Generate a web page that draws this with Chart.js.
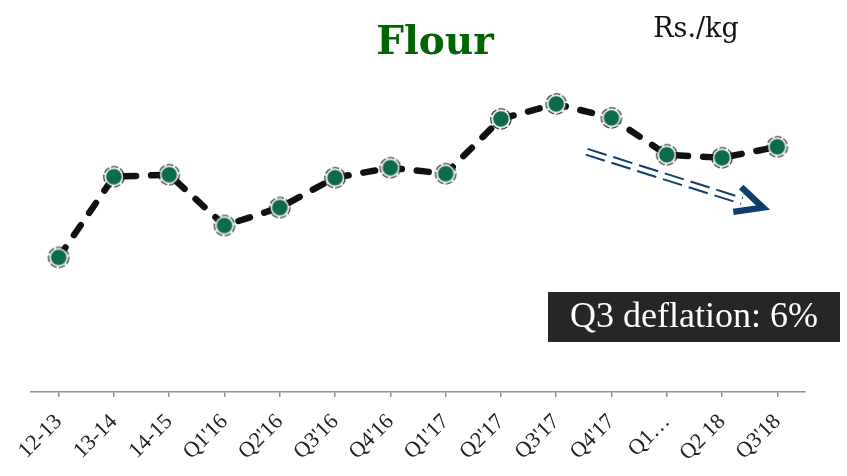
<!DOCTYPE html>
<html>
<head>
<meta charset="utf-8">
<script src="https://cdn.jsdelivr.net/npm/chart.js@4"></script>
<style>
  html, body { margin: 0; padding: 0; background: #fff; }
  #wrap { width: 847px; height: 476px; }
</style>
</head>
<body>
<div id="wrap"><canvas id="flour"></canvas></div>
<script>
// categories and values (Rs./kg)
const periodos = ["12-13", "13-14", "14-15", "Q1'16", "Q2'16", "Q3'16", "Q4'16",
  "Q1'17", "Q2'17", "Q3'17", "Q4'17", "Q1…", "Q2 18", "Q3'18"];
const precios = [33.5, 41.6, 41.8, 36.7, 38.5, 41.5, 42.5, 41.9, 47.4, 48.9, 47.5, 43.8, 43.5, 44.6];
// trend arrow: [category index, value] at start and tip
const flechaDesde = [9.55, 44.1];
const flechaHasta = [12.74, 38.5];

const ctx = document.getElementById("flour");

// marker: green dot with light ring and dashed dark outline
function crearMarcador() {
  const c = document.createElement("canvas");
  c.width = 24; c.height = 24;
  const g = c.getContext("2d");
  g.beginPath();
  g.arc(12, 12, 8.5, 0, Math.PI * 2);
  g.fillStyle = "#0d6a4c";
  g.fill();
  g.lineWidth = 1.5;
  g.strokeStyle = "#e8f0ec";
  g.stroke();
  g.beginPath();
  g.arc(12, 12, 10.2, 0, Math.PI * 2);
  g.setLineDash([7, 2]);
  g.lineWidth = 1.1;
  g.strokeStyle = "#222";
  g.stroke();
  return c;
}

const extras = {
  id: "extras",
  afterDraw(chart) {
    const c = chart.ctx;
    const x = chart.scales.x, y = chart.scales.y;
    c.save();
    // title
    c.fillStyle = "#006400";
    c.font = "bold 39px 'DejaVu Serif'";
    c.textAlign = "center";
    c.textBaseline = "middle";
    c.fillText("Flour", 435, 44);
    // units
    c.fillStyle = "#111";
    c.font = "27px 'DejaVu Serif'";
    c.fillText("Rs./kg", 696, 30);

    // trend arrow (double dashed line)
    const x0 = x.getPixelForValue(flechaDesde[0]), y0 = y.getPixelForValue(flechaDesde[1]);
    const x1 = x.getPixelForValue(flechaHasta[0]), y1 = y.getPixelForValue(flechaHasta[1]);
    const ang = Math.atan2(y1 - y0, x1 - x0);
    const nx = -Math.sin(ang) * 3, ny = Math.cos(ang) * 3;
    c.strokeStyle = "#0f3e6e";
    c.lineWidth = 2;
    c.setLineDash([20, 7]);
    [-1, 1].forEach(s => {
      c.beginPath();
      c.moveTo(x0 + nx * s, y0 + ny * s);
      c.lineTo(x1 - Math.cos(ang) * 22 + nx * s, y1 - Math.sin(ang) * 22 + ny * s);
      c.stroke();
    });
    c.setLineDash([]);
    c.lineWidth = 6.5;
    c.lineCap = "butt";
    c.lineJoin = "miter";
    c.beginPath();
    c.moveTo(x1 - Math.cos(ang - 0.45) * 30, y1 - Math.sin(ang - 0.45) * 30);
    c.lineTo(x1, y1);
    c.lineTo(x1 - Math.cos(ang + 0.45) * 30, y1 - Math.sin(ang + 0.45) * 30);
    c.stroke();

    // deflation box
    c.fillStyle = "#262626";
    c.fillRect(548, 292, 292, 50);
    c.fillStyle = "#fff";
    c.font = "36px 'Liberation Serif'";
    c.textAlign = "center";
    c.fillText("Q3 deflation: 6%", 694, 318);
    c.restore();
  }
};

new Chart(ctx, {
  type: "line",
  data: {
    labels: periodos,
    datasets: [{
      data: precios,
      borderColor: "#111",
      borderWidth: 6.5,
      borderDash: [12, 15],
      borderCapStyle: "round",
      tension: 0,
      pointStyle: crearMarcador(),
      pointRadius: 11,
      pointHoverRadius: 11
    }]
  },
  options: {
    responsive: true,
    maintainAspectRatio: false,
    animation: false,
    layout: { padding: { top: 83, left: 31, right: 42, bottom: 0 } },
    plugins: {
      legend: { display: false },
      tooltip: { enabled: false }
    },
    scales: {
      x: {
        offset: true,
        afterFit: (s) => { s.height = 84; },
        border: { color: "#8c8c8c", width: 1.5 },
        grid: { drawOnChartArea: false, color: "#8c8c8c", tickLength: 5, lineWidth: 1.5 },
        ticks: {
          color: "#222",
          minRotation: 45,
          maxRotation: 45,
          autoSkip: false,
          padding: 12,
          font: { family: "'Liberation Serif'", size: 22 }
        }
      },
      y: {
        display: false,
        min: 20,
        max: 51
      }
    }
  },
  plugins: [extras]
});
</script>
</body>
</html>
